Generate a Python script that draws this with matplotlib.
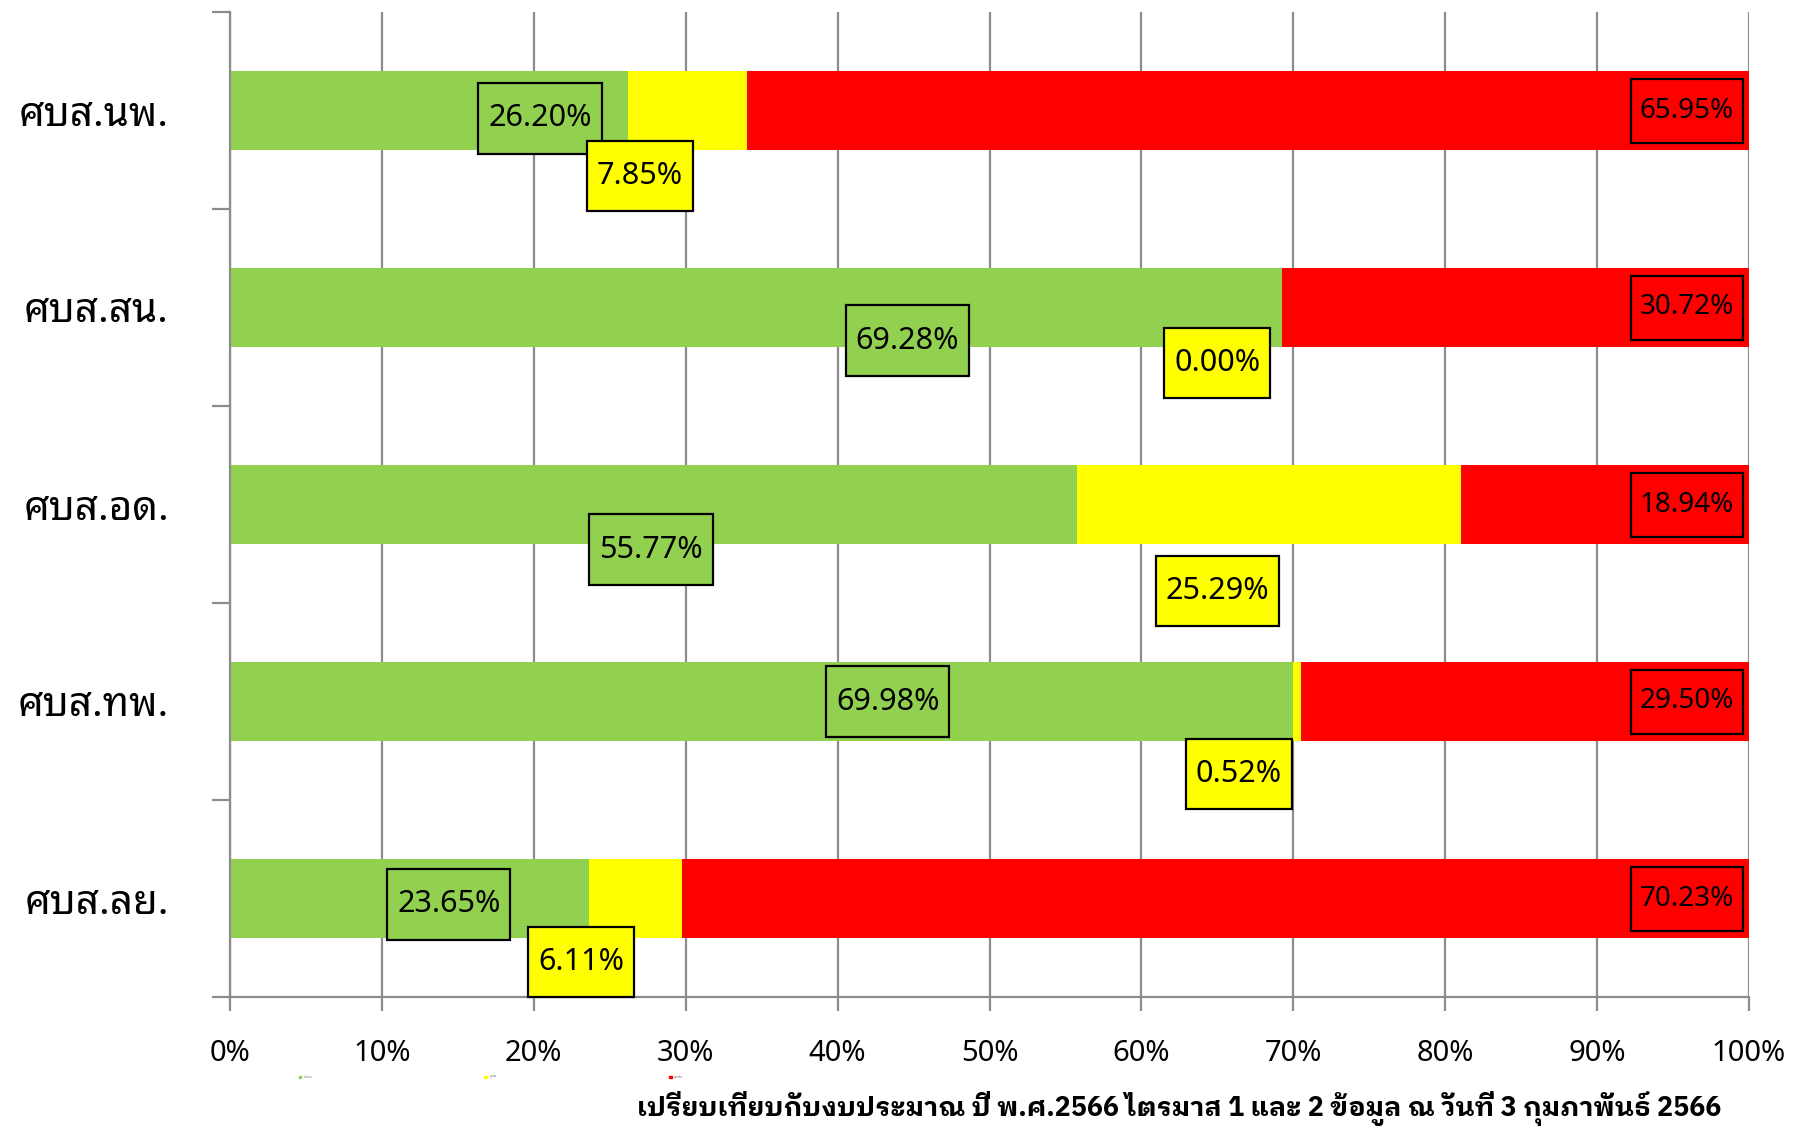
import matplotlib
matplotlib.use('Agg')
import matplotlib.pyplot as plt
from matplotlib.patches import Patch
from matplotlib.path import Path

plt.rcParams['font.family'] = ['Noto Sans Thai Looped', 'DejaVu Sans']

# data (percent of budget, Q1+Q2 FY2566)
units = ['ศบส.นพ.', 'ศบส.สน.', 'ศบส.อด.', 'ศบส.ทพ.', 'ศบส.ลย.']
paid = [26.20, 69.28, 55.77, 69.98, 23.65]
committed = [7.85, 0.00, 25.29, 0.52, 6.11]
remaining = [65.95, 30.72, 18.94, 29.50, 70.23]
series_names = ['เบิกจ่าย', 'ผูกพัน', 'คงเหลือ']

# where the value boxes sit (x in %, y offset in category units)
green_lab = [(20.4, 0.04), (44.6, 0.17), (27.7, 0.23), (43.3, 0.0), (14.4, 0.03)]
yellow_lab = [(27.0, 0.33), (65.0, 0.28), (65.0, 0.44), (66.4, 0.37), (23.1, 0.32)]
red_x = 95.9

GREEN = '#92D050'
YELLOW = '#FFFF00'
RED = '#FF0000'
GRAY = '#8c8c8c'


def rect_box(padx, boxh):
    # square label box, fixed height in pixels
    def style(x0, y0, width, height, mutation_size):
        cy = y0 + height / 2
        l, r = x0 - padx, x0 + width + padx
        b, t = cy - boxh / 2, cy + boxh / 2
        return Path([(l, b), (r, b), (r, t), (l, t), (l, b)], closed=True)
    return style


fig = plt.figure(figsize=(17.95, 11.31), dpi=100)
ax = fig.add_axes([230/1795, 1-997/1131, (1749-230)/1795, (997-12)/1131])

ypos = list(range(len(units)))
h = 0.4
ax.barh(ypos, paid, height=h, color=GREEN, zorder=2)
ax.barh(ypos, committed, left=paid, height=h, color=YELLOW, zorder=2)
left3 = [p + c for p, c in zip(paid, committed)]
ax.barh(ypos, remaining, left=left3, height=h, color=RED, zorder=2)

for i in ypos:
    gx, gy = green_lab[i]
    ax.text(gx, i + gy, '%.2f%%' % paid[i], ha='center', va='center', fontsize=22,
            bbox=dict(boxstyle=rect_box(10, 71), facecolor=GREEN, edgecolor='black', linewidth=1.6),
            zorder=4)
    yx, yy = yellow_lab[i]
    ax.text(yx, i + yy, '%.2f%%' % committed[i], ha='center', va='center', fontsize=22,
            bbox=dict(boxstyle=rect_box(10, 70), facecolor=YELLOW, edgecolor='black', linewidth=1.6),
            zorder=5)
    ax.text(red_x, i, '%.2f%%' % remaining[i], ha='center', va='center', fontsize=20,
            bbox=dict(boxstyle=rect_box(9, 64), facecolor=RED, edgecolor='black', linewidth=1.6),
            zorder=4)

ax.set_xlim(0, 100)
ax.set_ylim(len(units) - 0.5, -0.5)
ax.set_xticks(range(0, 101, 10))
ax.set_xticklabels(['%d%%' % v for v in range(0, 101, 10)], fontsize=21)
ax.tick_params(axis='x', length=10, width=1.6, color=GRAY, pad=20)
ax.grid(axis='x', color=GRAY, linewidth=1.6, zorder=1)

ax.set_yticks([i - 0.5 for i in range(len(units) + 1)])
ax.set_yticklabels([])
ax.tick_params(axis='y', which='major', length=13, width=1.6, color=GRAY)
ax.set_yticks(ypos, minor=True)
ax.set_yticklabels(units, minor=True, fontsize=29)
ax.tick_params(axis='y', which='minor', length=0, pad=44)

for s in ['top', 'right']:
    ax.spines[s].set_visible(False)
for s in ['left', 'bottom']:
    ax.spines[s].set_color(GRAY)
    ax.spines[s].set_linewidth(1.6)
ax.set_axisbelow(True)

handles = [Patch(color=c) for c in (GREEN, YELLOW, RED)]
fig.legend(handles, series_names, loc='center left', bbox_to_anchor=(296/1795, 1-1077/1131),
           ncol=3, fontsize=2, frameon=False, handlelength=1, handleheight=1,
           columnspacing=62, labelcolor='#777777')

fig.text(1721/1795, 1-1108/1131,
         'เปรียบเทียบกับงบประมาณ ปี พ.ศ.2566 ไตรมาส 1 และ 2 ข้อมูล ณ วันที่ 3 กุมภาพันธ์ 2566',
         ha='right', va='center', fontsize=19.4, fontweight='bold',
         family=['IBM Plex Sans Thai Looped', 'Noto Sans Thai', 'DejaVu Sans'])

fig.savefig('out.png', dpi=100)
